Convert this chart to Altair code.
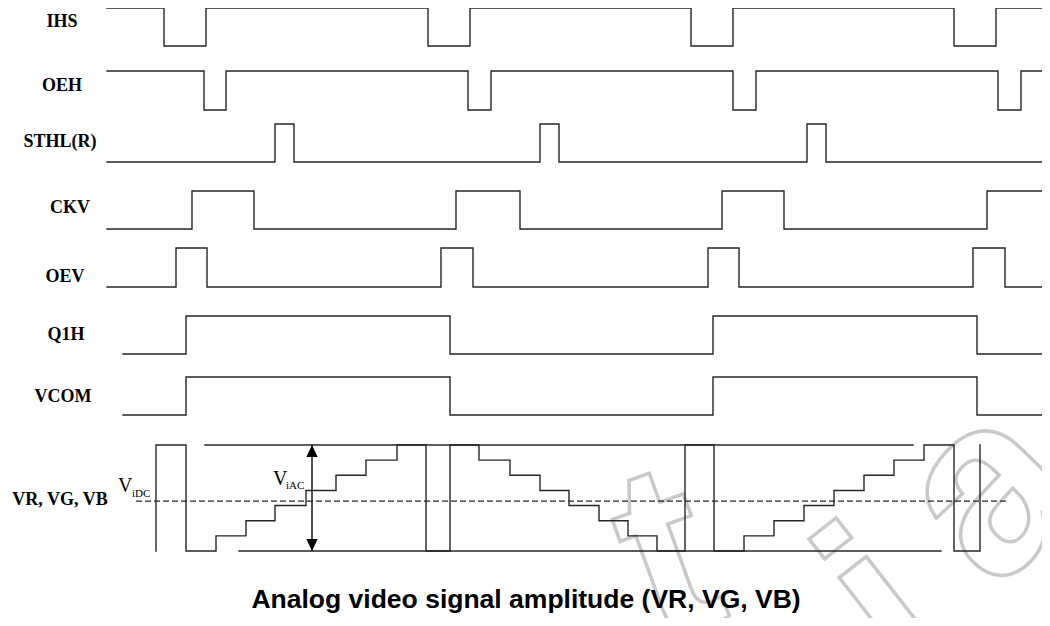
import altair as alt
import pandas as pd

# ---------------- data (time axis read in page-pixel units) ----------------
signals = ["IHS", "OEH", "STHL(R)", "CKV", "OEV", "Q1H", "VCOM"]
start_t = [107, 107, 107, 107, 107, 123, 123]
start_level = [1, 1, 0, 0, 0, 0, 0]
end_t = [1047, 1047, 1047, 1047, 1047, 1045, 1045]
ihs_toggles = [164, 206, 428, 470, 691, 733, 954, 996]
oeh_toggles = [204, 226, 468, 491, 733, 756, 998, 1021]
sthl_toggles = [275, 294, 540, 559, 807, 826]
ckv_toggles = [192, 254, 456, 520, 722, 784, 987, 1047]
oev_toggles = [176, 207, 441, 473, 708, 739, 973, 1005]
q1h_toggles = [186, 450, 713, 977]
vcom_toggles = [186, 450, 713, 977]
toggles = [ihs_toggles, oeh_toggles, sthl_toggles, ckv_toggles,
           oev_toggles, q1h_toggles, vcom_toggles]

# analog video (8 grey levels, 0 = bottom, 7 = top)
vr_times = [156, 186, 216, 246, 275, 306, 336, 366, 397, 426, 450, 479, 510,
            540, 569, 599, 628, 657, 685, 714, 744, 774, 804, 834, 864, 894,
            924, 954, 980]
vr_levels = [7, 0, 1, 2, 3, 4, 5, 6, 7, 0, 7, 6, 5, 4, 3, 2, 1, 0, 7, 0, 1,
             2, 3, 4, 5, 6, 7, 0, 7]
vr_start_level = 0
ref_top_span = [205, 913]
ref_bot_span = [239, 941]
vidc_level = 3.3
vidc_span = [136, 1008]
viac_time = 312

label_names = signals + ["VR, VG, VB"]
title_text = "Analog video signal amplitude (VR, VG, VB)"
watermark_letters = ["t", "i", "a"]

# ---------------- layout (pixel rows) ----------------
row_low = {"IHS": 46, "OEH": 110, "STHL(R)": 162, "CKV": 229, "OEV": 287,
           "Q1H": 354, "VCOM": 415}
row_high = {"IHS": 8, "OEH": 71, "STHL(R)": 124, "CKV": 191, "OEV": 248,
            "Q1H": 316, "VCOM": 377}
vr_bottom, vr_top = 551, 445
label_pos = {"IHS": (62, 27), "OEH": (62, 91), "STHL(R)": (60, 147),
             "CKV": (70, 213), "OEV": (65, 282), "Q1H": (66, 340),
             "VCOM": (63, 402), "VR, VG, VB": (60, 505)}
wm_x = [668, 888, 990]
wm_y = [560, 612, 492]
wm_angle = [340, 322, 314]


def vr_y(level):
    return vr_bottom - level * (vr_bottom - vr_top) / 7.0


rows = []
for name, t0, l0, t1, tg in zip(signals, start_t, start_level, end_t, toggles):
    lo, hi = row_low[name], row_high[name]
    lvl = l0
    pts = [(t0, lvl)]
    for t in tg:
        pts.append((t, lvl))
        lvl = 1 - lvl
        pts.append((t, lvl))
    pts.append((t1, lvl))
    for i, (t, l) in enumerate(pts):
        rows.append({"sig": name, "i": i, "x": t, "y": lo + (hi - lo) * l})

lvl = vr_start_level
pts = [(vr_times[0], lvl)]
for t, l in zip(vr_times, vr_levels):
    pts.append((t, lvl))
    lvl = l
    pts.append((t, lvl))
for i, (t, l) in enumerate(pts):
    rows.append({"sig": "VR", "i": i, "x": t, "y": vr_y(l)})

for k, (span, l) in enumerate([(ref_top_span, 7), (ref_bot_span, 0)]):
    for i, t in enumerate(span):
        rows.append({"sig": f"ref{k}", "i": i, "x": t, "y": vr_y(l)})

wave = pd.DataFrame(rows)

W, H = 1034, 610
X = alt.X("x:Q", scale=alt.Scale(domain=[8, 1042], nice=False, zero=False), axis=None)
Y = alt.Y("y:Q", scale=alt.Scale(domain=[618, 8], nice=False, zero=False), axis=None)

ink = "#262626"

wm_df = pd.DataFrame({"t": watermark_letters, "x": wm_x, "y": wm_y, "a": wm_angle})
watermark = alt.Chart(wm_df).mark_text(
    font="Liberation Sans", fontWeight="bold", fontSize=250, fillOpacity=0,
    stroke="#c9c9c9", strokeWidth=3.5, align="center", baseline="middle").encode(
    x=X, y=Y, text="t:N", angle=alt.Angle("a:Q", scale=None))

lines = alt.Chart(wave).mark_line(color=ink, strokeWidth=1.4, strokeCap="square").encode(
    x=X, y=Y, detail="sig:N", order="i:Q")

dash_df = pd.DataFrame({"x": vidc_span, "y": [vr_y(vidc_level)] * 2})
dash = alt.Chart(dash_df).mark_line(color=ink, strokeWidth=1.3, strokeDash=[6, 3]).encode(x=X, y=Y)

arrow_df = pd.DataFrame({"x": [viac_time, viac_time], "y": [vr_y(7), vr_y(0)]})
arrow_line = alt.Chart(arrow_df).mark_line(color=ink, strokeWidth=1.6).encode(x=X, y=Y)
head_up = alt.Chart(pd.DataFrame({"x": [viac_time], "y": [vr_y(7)]})).mark_point(
    shape="M0,-1L0.95,1L-0.95,1Z", size=144, filled=True, color="black", opacity=1,
    yOffset=6).encode(x=X, y=Y)
head_dn = alt.Chart(pd.DataFrame({"x": [viac_time], "y": [vr_y(0)]})).mark_point(
    shape="M0,1L0.95,-1L-0.95,-1Z", size=144, filled=True, color="black", opacity=1,
    yOffset=-6).encode(x=X, y=Y)

lab_df = pd.DataFrame({"label": label_names,
                       "x": [label_pos[n][0] for n in label_names],
                       "y": [label_pos[n][1] for n in label_names]})
labels = alt.Chart(lab_df).mark_text(
    font="Liberation Serif", fontWeight="bold", fontSize=18, color="black",
    align="center", baseline="alphabetic").encode(x=X, y=Y, text="label:N")

v_df = pd.DataFrame({"t": ["V", "V"], "x": [118, 273], "y": [492, 485]})
v_big = alt.Chart(v_df).mark_text(
    font="Liberation Serif", fontSize=20, color="black", align="left",
    baseline="alphabetic").encode(x=X, y=Y, text="t:N")
sub_df = pd.DataFrame({"t": ["iDC", "iAC"], "x": [132, 286], "y": [497, 489]})
v_sub = alt.Chart(sub_df).mark_text(
    font="Liberation Serif", fontSize=11, color="black", align="left",
    baseline="alphabetic").encode(x=X, y=Y, text="t:N")

title = alt.Chart(pd.DataFrame({"t": [title_text], "x": [526], "y": [608]})).mark_text(
    font="Liberation Sans", fontWeight="bold", fontSize=26.5, color="black",
    align="center", baseline="alphabetic").encode(x=X, y=Y, text="t:N")

chart = alt.layer(watermark, lines, dash, arrow_line, head_up, head_dn, labels,
                  v_big, v_sub, title).properties(
    width=W, height=H, padding=0, autosize=alt.AutoSizeParams(type="none"),
    background="white").configure_view(stroke=None)

chart.save("out.html", embed_options={"renderer": "svg", "actions": False})
